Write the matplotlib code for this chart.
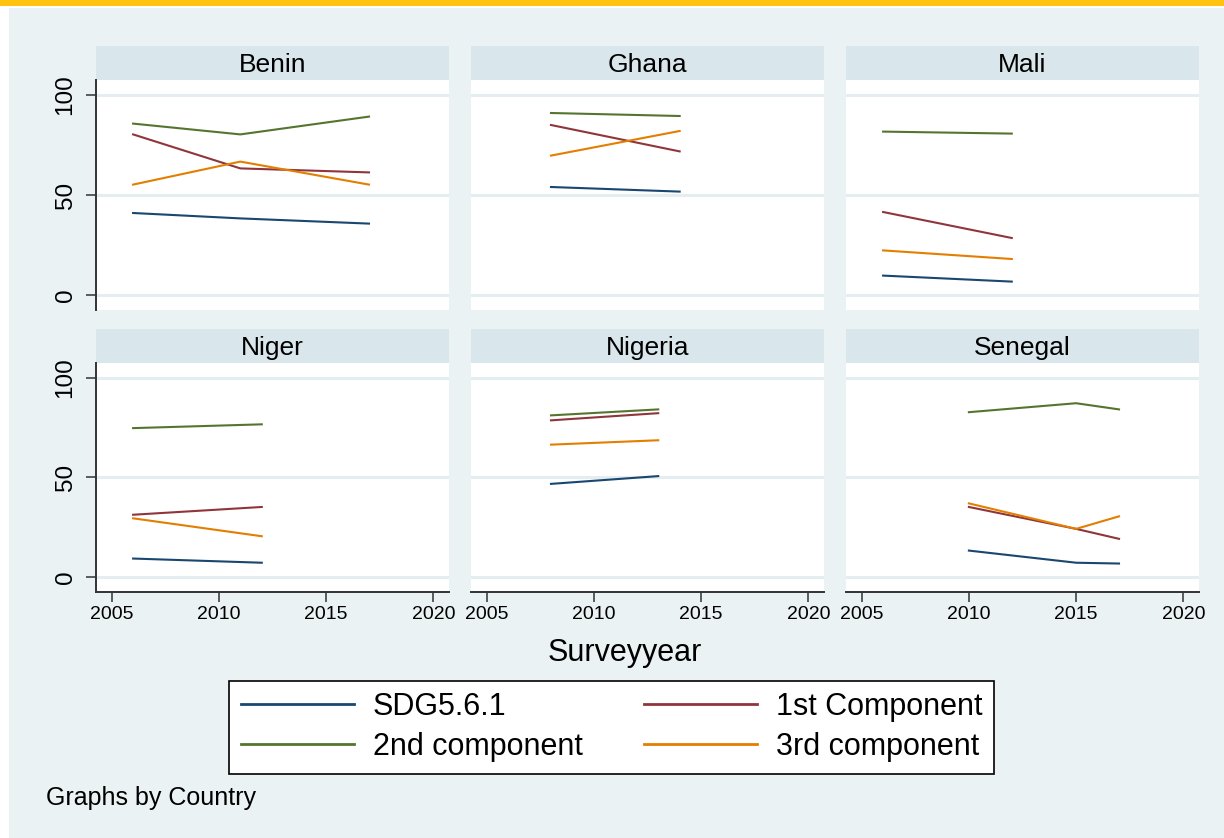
import matplotlib.pyplot as plt
from matplotlib.patches import Rectangle

plt.rcParams['font.family'] = ['Liberation Sans', 'DejaVu Sans']

# data, one entry per country
countries = ["Benin", "Ghana", "Mali", "Niger", "Nigeria", "Senegal"]
years = [[2006, 2011, 2017], [2008, 2014], [2006, 2012],
         [2006, 2012], [2008, 2013], [2010, 2015, 2017]]
sdg561 = [[41.0, 38.3, 35.7], [54.0, 51.7], [9.7, 6.7],
          [9.3, 7.2], [46.8, 50.7], [13.3, 7.2, 6.8]]
comp1 = [[80.3, 63.3, 61.3], [85.0, 71.8], [41.5, 28.5],
         [31.3, 35.2], [78.7, 82.3], [35.2, 24.2, 19.2]]
comp2 = [[85.7, 80.3, 89.2], [91.0, 89.5], [81.7, 80.7],
         [74.8, 76.7], [81.2, 84.2], [82.8, 87.3, 84.2]]
comp3 = [[55.2, 66.7, 55.2], [69.7, 82.0], [22.3, 18.0],
         [29.5, 20.5], [66.5, 68.7], [37.0, 24.2, 30.5]]

series = [sdg561, comp1, comp2, comp3]
series_labels = ["SDG5.6.1", "1st Component", "2nd component", "3rd component"]
colors = ["#1a476f", "#90353b", "#55752f", "#e37e00"]

W, H = 1224, 838
bg = "#EAF2F3"
strip_col = "#D9E6EB"


def box(x0, y0, x1, y1):
    return [x0 / W, 1 - y1 / H, (x1 - x0) / W, (y1 - y0) / H]


fig = plt.figure(figsize=(W / 100, H / 100), dpi=100)
fig.patch.set_facecolor("white")
fig.add_artist(Rectangle((9 / W, 0), 1 - 9 / W, 1 - 8 / H, transform=fig.transFigure,
                         facecolor=bg, edgecolor="none", zorder=0))
fig.add_artist(Rectangle((0, 1 - 6 / H), 1, 6 / H, transform=fig.transFigure,
                         facecolor="#FFC20E", edgecolor="none", zorder=0))

col_x = [(96, 449), (471, 824), (846, 1199)]
row_y = [(80, 310), (363, 592)]
strip_h = 34

handles = None
for i, name in enumerate(countries):
    r, c = divmod(i, 3)
    ax = fig.add_axes(box(col_x[c][0], row_y[r][0], col_x[c][1], row_y[r][1]))
    ax.set_facecolor("white")
    ax.set_xlim(2004.27, 2020.73)
    ax.set_ylim(-7.5, 107.5)
    ax.set_xticks([2005, 2010, 2015, 2020])
    ax.set_yticks([0, 50, 100])
    ax.grid(axis="y", color="#E4EDEF", lw=2.2)
    ax.set_axisbelow(True)
    for s in ax.spines.values():
        s.set_visible(False)

    if c == 0:
        ax.spines["left"].set_visible(True)
        ax.spines["left"].set_color("#333333")
        ax.spines["left"].set_linewidth(1.4)
        ax.tick_params(axis="y", length=7, width=1.1, color="#333333",
                       labelsize=17.5, pad=7, labelrotation=90)
        for lab in ax.get_yticklabels():
            lab.set_va("center")
    else:
        ax.tick_params(axis="y", left=False, labelleft=False)

    if r == 1:
        ax.spines["bottom"].set_visible(True)
        ax.spines["bottom"].set_color("#333333")
        ax.spines["bottom"].set_linewidth(1.4)
        ax.tick_params(axis="x", length=7, width=1.1, color="#333333",
                       labelsize=14, pad=3)
    else:
        ax.tick_params(axis="x", bottom=False, labelbottom=False)

    hs = []
    for vals, lab, col in zip(series, series_labels, colors):
        h, = ax.plot(years[i], vals[i], color=col, lw=1.5, label=lab)
        hs.append(h)
    if handles is None:
        handles = hs

    ph = row_y[r][1] - row_y[r][0]
    ax.add_patch(Rectangle((0, 1), 1, strip_h / ph, transform=ax.transAxes,
                           clip_on=False, facecolor=strip_col, edgecolor="none"))
    ax.text(0.5, 1 + (strip_h / 2 - 1.5) / ph, name, transform=ax.transAxes,
            ha="center", va="center", fontsize=19)

fig.text(625 / W, 1 - 653 / H, "Surveyyear", ha="center", va="center", fontsize=22)
fig.text(46 / W, 1 - 798 / H, "Graphs by Country", ha="left", va="center", fontsize=18)

order = [0, 2, 1, 3]
leg = fig.legend([handles[k] for k in order], [series_labels[k] for k in order],
                 ncol=2, loc="center left", bbox_to_anchor=(229 / W, 1 - 727 / H),
                 fontsize=22, frameon=True, fancybox=False, edgecolor="black",
                 framealpha=1, handlelength=3.7, handletextpad=0.62,
                 columnspacing=2.0, labelspacing=0.32, borderpad=0.38,
                 borderaxespad=0)
leg.get_frame().set_linewidth(1.2)
for ln in leg.get_lines():
    ln.set_linewidth(2)

fig.savefig("out.png", dpi=100)
